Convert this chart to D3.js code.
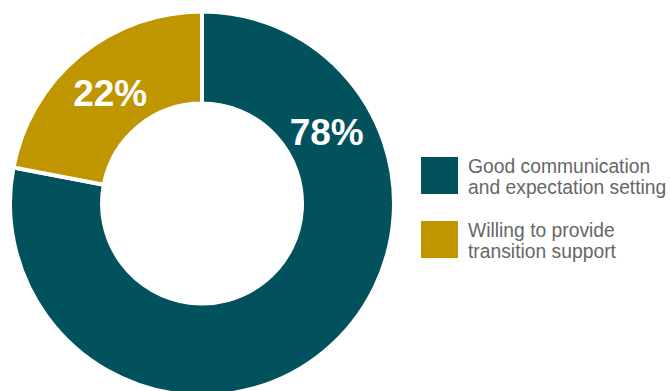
<!DOCTYPE html>
<html><head><meta charset="utf-8">
<script src="https://cdn.jsdelivr.net/npm/d3@7"></script>
<style>html,body{margin:0;padding:0;background:#fff;}</style>
</head><body>
<svg id="chart" width="670" height="391"></svg>
<script>
const categories = ["Good communication and expectation setting", "Willing to provide transition support"];
const legendLines = [["Good communication", "and expectation setting"], ["Willing to provide", "transition support"]];
const values = [78, 22];
const labels = ["78%", "22%"];
const colors = ["#02525E", "#BF9500"];

const svg = d3.select("#chart");
const cx = 202, cy = 203.5, rOuter = 192, rInner = 100;
const g = svg.append("g").attr("transform", `translate(${cx},${cy})`);

const pie = d3.pie().sort(null).value(d => d);
const arcs = pie(values);
const arc = d3.arc().innerRadius(rInner).outerRadius(rOuter);

g.selectAll("path").data(arcs).join("path")
  .attr("d", arc)
  .attr("fill", (d, i) => colors[i])
  .attr("stroke", "#fff")
  .attr("stroke-width", 4)
  .attr("stroke-linejoin", "miter");

// label positions: mid-radius; first label drawn at ~60deg, second at its slice centroid
const labelArc = d3.arc().innerRadius(rInner + 44).outerRadius(rInner + 44);
const labelAngles = [Math.PI * 60 / 180, (arcs[1].startAngle + arcs[1].endAngle) / 2];
g.selectAll("text.lbl").data(arcs).join("text")
  .attr("class", "lbl")
  .attr("transform", (d, i) => {
    const c = labelArc.centroid({startAngle: labelAngles[i], endAngle: labelAngles[i]});
    return `translate(${c[0]},${c[1]})`;
  })
  .attr("text-anchor", "middle")
  .attr("dy", "0.36em")
  .attr("fill", "#fff")
  .attr("font-family", "Liberation Sans, Arial, sans-serif")
  .attr("font-weight", "bold")
  .attr("font-size", 37)
  .text((d, i) => labels[i]);

const legend = svg.append("g").attr("transform", "translate(421,157)");
const items = legend.selectAll("g").data(categories).join("g")
  .attr("transform", (d, i) => `translate(0,${i * 64})`);
items.append("rect").attr("width", 37).attr("height", 37).attr("fill", (d, i) => colors[i]);
items.each(function(d, i) {
  const t = d3.select(this).append("text")
    .attr("x", 47).attr("y", 16)
    .attr("fill", "#666")
    .attr("font-family", "Liberation Sans, Arial, sans-serif")
    .attr("font-size", 19.3);
  legendLines[i].forEach((line, j) => {
    t.append("tspan").attr("x", 47).attr("dy", j === 0 ? 0 : 21).text(line);
  });
});
</script>
</body></html>
